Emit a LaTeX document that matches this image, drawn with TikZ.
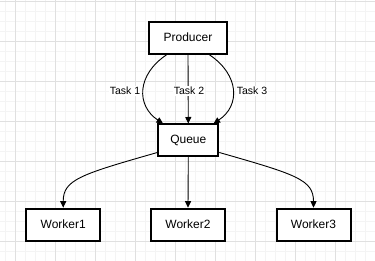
\documentclass[tikz,border=0pt]{standalone}
\usepackage{fontspec}
\setmainfont{Liberation Sans}
\usetikzlibrary{arrows.meta,calc}
\definecolor{gridminor}{HTML}{F4F4F4}
\definecolor{gridmajor}{HTML}{E0E0E0}
\begin{document}
\begin{tikzpicture}[x=1pt,y=-1pt,
  box/.style={draw=black,line width=2pt,fill=white,minimum height=32pt,inner sep=0pt,font=\fontsize{12}{14}\selectfont},
  conn/.style={draw=black,line width=0.9pt,-{Triangle[length=6.5pt,width=6pt]}},
  lbl/.style={fill=white,inner sep=1pt,font=\fontsize{10.5}{12}\selectfont}]
\useasboundingbox (0,0) rectangle (375,261);
\fill[white] (0,0) rectangle (375,261);
% grid
\foreach \x in {5,15,...,375} \draw[gridminor,line width=0.8pt] (\x,0) -- (\x,261);
\foreach \y in {1,11,...,261} \draw[gridminor,line width=0.8pt] (0,\y) -- (375,\y);
\foreach \x in {15,55,...,375} \draw[gridmajor,line width=0.8pt] (\x,0) -- (\x,261);
\foreach \y in {1,41,...,261} \draw[gridmajor,line width=0.8pt] (0,\y) -- (375,\y);
% nodes
\node[box,minimum width=77.5pt] (prod) at (188,37.7) {Producer};
\node[box,minimum width=60pt] (queue) at (188.3,140.5) {Queue};
\node[box,minimum width=74pt] (w1) at (63.2,224.7) {Worker1};
\node[box,minimum width=74pt] (w2) at (188,224.7) {Worker2};
\node[box,minimum width=74pt] (w3) at (313.5,224.7) {Worker3};
% producer -> queue
\draw[conn] ([xshift=-21.3pt]prod.south) .. controls +(-30,20) and +(-27,-18) .. ([xshift=-25.3pt]queue.north);
\draw[conn] (prod.south) -- (queue.north);
\draw[conn] ([xshift=21.3pt]prod.south) .. controls +(30,20) and +(27,-18) .. ([xshift=25.3pt]queue.north);
\node[lbl] (t1) at (125,91) {Task 1};
\node[lbl] (t2) at (189,91) {Task 2};
\node[lbl] (t3) at (252,91) {Task 3};
% queue -> workers
\draw[conn] ([yshift=-12pt]queue.west) .. controls +(-77,22) and +(0,-28) .. (w1.north);
\draw[conn] (queue.south) -- (w2.north);
\draw[conn] ([yshift=-12pt]queue.east) .. controls +(77,22) and +(0,-28) .. (w3.north);
\end{tikzpicture}
\end{document}
